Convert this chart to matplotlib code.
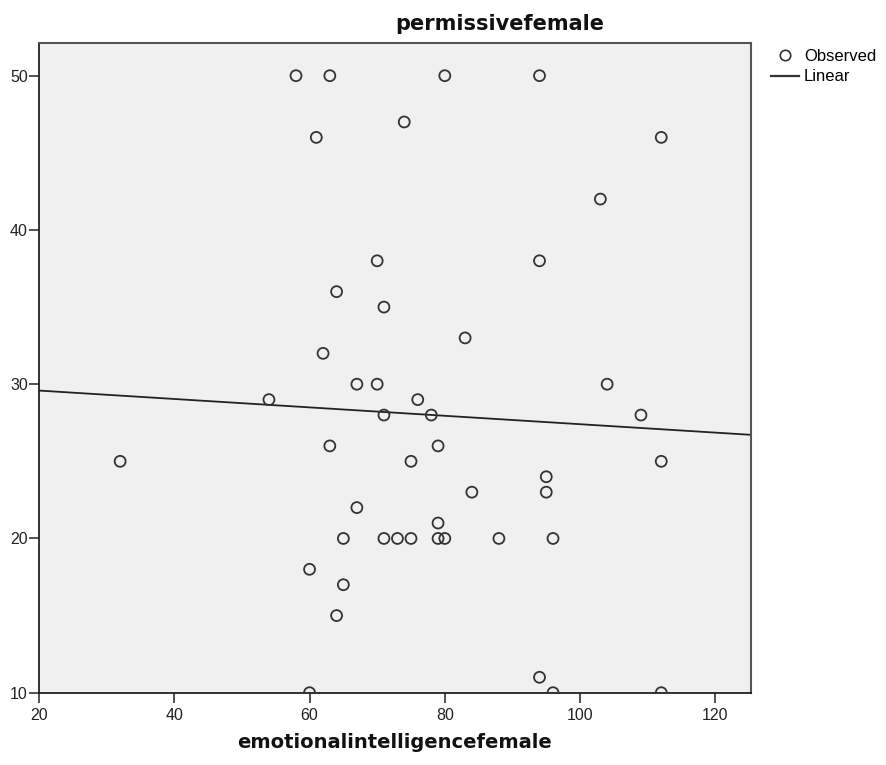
import numpy as np
import matplotlib
matplotlib.use("Agg")
import matplotlib.pyplot as plt
from matplotlib.lines import Line2D

# emotional intelligence (x) vs permissive score (y), female sample
ei_female = [58, 63, 80, 94, 74, 61, 112, 103, 70, 94, 64, 71, 83,
             62, 67, 70, 104, 54, 76, 71, 78, 109, 63, 79, 32, 75, 112,
             95, 95, 84, 67, 79, 65, 71, 73, 75, 79, 80, 88, 96,
             60, 65, 64, 94, 60, 96, 112]
permissive_female = [50, 50, 50, 50, 47, 46, 46, 42, 38, 38, 36, 35, 33,
                     32, 30, 30, 30, 29, 29, 28, 28, 28, 26, 26, 25, 25, 25,
                     24, 23, 23, 22, 21, 20, 20, 20, 20, 20, 20, 20, 20,
                     18, 17, 15, 11, 10, 10, 10]

x_ticks = [20, 40, 60, 80, 100, 120]
y_ticks = [10, 20, 30, 40, 50]

fig = plt.figure(figsize=(8.86, 7.65), dpi=100)
ax = fig.add_axes([0.044, 0.0945, 0.8031, 0.8489])
ax.set_facecolor("#f0f0f0")

ax.scatter(ei_female, permissive_female, s=62, facecolors="none",
           edgecolors="#333333", linewidths=1.3, zorder=3, clip_on=True)

# linear fit line
slope, intercept = np.polyfit(ei_female, permissive_female, 1)
xs = np.array([20, 125.2])
ax.plot(xs, intercept + slope * xs, color="#222222", lw=1.3, zorder=2)

ax.set_xlim(20, 125.2)
ax.set_ylim(10, 52.1)
ax.set_xticks(x_ticks)
ax.set_yticks(y_ticks)

for side in ["left", "bottom"]:
    ax.spines[side].set_color("#222222")
    ax.spines[side].set_linewidth(1.3)
for side in ["top", "right"]:
    ax.spines[side].set_color("#555555")
    ax.spines[side].set_linewidth(1.5)

ax.tick_params(axis="both", direction="out", length=7.5, width=1.1,
               color="#222222", labelsize=11.5, labelcolor="#222222")
ax.tick_params(axis="y", pad=0.5)
ax.tick_params(axis="x", pad=3.5)
for lab in ax.get_xticklabels() + ax.get_yticklabels():
    lab.set_fontfamily("Liberation Sans")

fig.text(395 / 886, 0.969, "permissivefemale", ha="left", va="center",
         fontsize=15, fontweight="bold", color="#111111")
fig.text(0.4455, 0.030, "emotionalintelligencefemale", ha="center",
         va="center", fontsize=14, fontweight="bold", color="#111111")

handles = [
    Line2D([], [], marker="o", ls="none", markersize=7.5,
           markerfacecolor="none", markeredgecolor="#333333",
           markeredgewidth=1.2),
    Line2D([], [], color="#333333", lw=1.6),
]
leg = fig.legend(handles, ["Observed", "Linear"], loc="upper left",
                 bbox_to_anchor=(0.853, 0.956), frameon=False,
                 handlelength=1.7, handletextpad=0.3, labelspacing=0.35,
                 prop={"family": "Liberation Sans", "size": 12})

fig.savefig("out.png", dpi=100)
